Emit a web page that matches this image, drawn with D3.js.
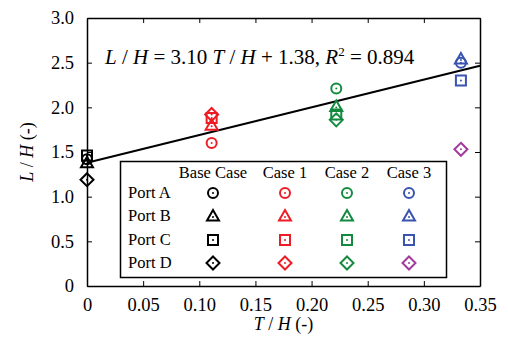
<!DOCTYPE html>
<html>
<head>
<meta charset="utf-8">
<script src="https://cdn.jsdelivr.net/npm/d3@7"></script>
<style>
  body { margin: 0; background: #fff; }
  svg text { font-family: "Liberation Serif", "DejaVu Serif", serif !important; fill: #000; }
</style>
</head>
<body>
<svg id="chart" width="508" height="345"></svg>
<script>
// data
const cases = ["Base Case", "Case 1", "Case 2", "Case 3"];
const ports = ["Port A", "Port B", "Port C", "Port D"];
const caseT = [0, 0.111, 0.222, 0.333];
const portA = [1.42, 1.60, 2.21, 2.50];
const portB = [1.38, 1.80, 2.01, 2.54];
const portC = [1.46, 1.88, 1.92, 2.30];
const portD = [1.19, 1.92, 1.86, 1.53];
const fit = {slope: 3.10, intercept: 1.38, r2: 0.894};
const xTicks = [0, 0.05, 0.10, 0.15, 0.20, 0.25, 0.30, 0.35];
const yTicks = [0, 0.5, 1.0, 1.5, 2.0, 2.5, 3.0];

const caseColor = ["#000000", "#ee1c25", "#138a3e", "#3953b0"];
const purple = "#a23a9e";
const shapes = ["circle", "triangle", "square", "diamond"];
const portValues = [portA, portB, portC, portD];

const margin = {left: 87, top: 18, right: 28, bottom: 59};
const W = 508, H = 345;
const svg = d3.select("#chart");

const x = d3.scaleLinear().domain([0, 0.35]).range([margin.left, W - margin.right]);
const y = d3.scaleLinear().domain([0, 3]).range([H - margin.bottom, margin.top]);

function markerPath(shape) {
    if (shape === "circle") return d3.arc()({innerRadius: 0, outerRadius: 5, startAngle: 0, endAngle: 2 * Math.PI});
    if (shape === "square") return "M-5,-5H5V5H-5Z";
    if (shape === "triangle") return "M0,-6L6,4.5H-6Z";
    return "M0,-6.5L6.5,0L0,6.5L-6.5,0Z";
}

function marker(g, shape, color) {
    g.append("path").attr("d", markerPath(shape))
        .attr("fill", "none").attr("stroke", color).attr("stroke-width", 2);
    g.append("circle").attr("r", 1).attr("cy", shape === "triangle" ? 1 : 0).attr("fill", color);
}

function colorFor(ci, pi) {
    return (ci === 3 && pi === 3) ? purple : caseColor[ci];
}

// axes frame
const fmtX = d => d === 0 ? "0" : d3.format(".2f")(d);
const fmtY = d => d === 0 ? "0" : d3.format(".1f")(d);

svg.append("g").attr("transform", `translate(0,${y(0)})`)
    .call(d3.axisBottom(x).tickValues(xTicks).tickSizeInner(-5).tickSizeOuter(0).tickPadding(12).tickFormat(fmtX));
svg.append("g").attr("transform", `translate(0,${y(3)})`)
    .call(d3.axisTop(x).tickValues(xTicks).tickSizeInner(-5).tickSizeOuter(0).tickFormat(""));
svg.append("g").attr("transform", `translate(${x(0)},0)`)
    .call(d3.axisLeft(y).tickValues(yTicks).tickSizeInner(-5).tickSizeOuter(0).tickPadding(13).tickFormat(fmtY));
svg.append("g").attr("transform", `translate(${x(0.35)},0)`)
    .call(d3.axisRight(y).tickValues(yTicks).tickSizeInner(-5).tickSizeOuter(0).tickFormat(""));

svg.selectAll(".domain").attr("stroke", "#000").attr("stroke-width", 1.5);
svg.selectAll(".tick line").attr("stroke", "#000").attr("stroke-width", 1);
svg.selectAll(".tick text").style("font-size", "18.5px").attr("fill", "#000");

// axis titles
svg.append("text").attr("x", x(0.175)).attr("y", 330).attr("text-anchor", "middle")
    .style("font-size", "18px")
    .html('<tspan font-style="italic">T</tspan> / <tspan font-style="italic">H</tspan> (-)');
svg.append("text").attr("transform", `translate(33,${y(1.5)}) rotate(-90)`).attr("text-anchor", "middle")
    .style("font-size", "18px")
    .html('<tspan font-style="italic">L</tspan> / <tspan font-style="italic">H</tspan> (-)');

// fit line
svg.append("line")
    .attr("x1", x(0)).attr("y1", y(fit.intercept))
    .attr("x2", x(0.35)).attr("y2", y(fit.intercept + fit.slope * 0.35))
    .attr("stroke", "#000").attr("stroke-width", 2);

svg.append("text").attr("x", 105).attr("y", 64).style("font-size", "21px")
    .html(`<tspan font-style="italic">L</tspan> / <tspan font-style="italic">H</tspan> = ${fit.slope.toFixed(2)} ` +
        `<tspan font-style="italic">T</tspan> / <tspan font-style="italic">H</tspan> + ${fit.intercept.toFixed(2)}, ` +
        `<tspan font-style="italic">R</tspan><tspan dy="-8" font-size="13px">2</tspan><tspan dy="8"> = ${fit.r2}</tspan>`);

// data markers
const points = svg.append("g");
portValues.forEach((vals, pi) => {
    vals.forEach((v, ci) => {
        const g = points.append("g").attr("transform", `translate(${x(caseT[ci])},${y(v)})`);
        marker(g, shapes[pi], colorFor(ci, pi));
    });
});

// legend table
const legend = svg.append("g");
legend.append("rect").attr("x", 120.5).attr("y", 161.5).attr("width", 326).attr("height", 116)
    .attr("fill", "#fff").attr("stroke", "#000").attr("stroke-width", 1.5);
const colX = [213, 285, 347, 409];
const rowY = [193, 216, 240, 263];
cases.forEach((c, ci) => {
    legend.append("text").attr("x", colX[ci]).attr("y", 178).attr("text-anchor", "middle")
        .style("font-size", "16.5px").text(c);
});
ports.forEach((p, pi) => {
    legend.append("text").attr("x", 128).attr("y", rowY[pi] + 5).style("font-size", "16.5px").text(p);
    cases.forEach((c, ci) => {
        const g = legend.append("g").attr("transform", `translate(${colX[ci]},${rowY[pi]})`);
        marker(g, shapes[pi], colorFor(ci, pi));
    });
});
</script>
</body>
</html>
